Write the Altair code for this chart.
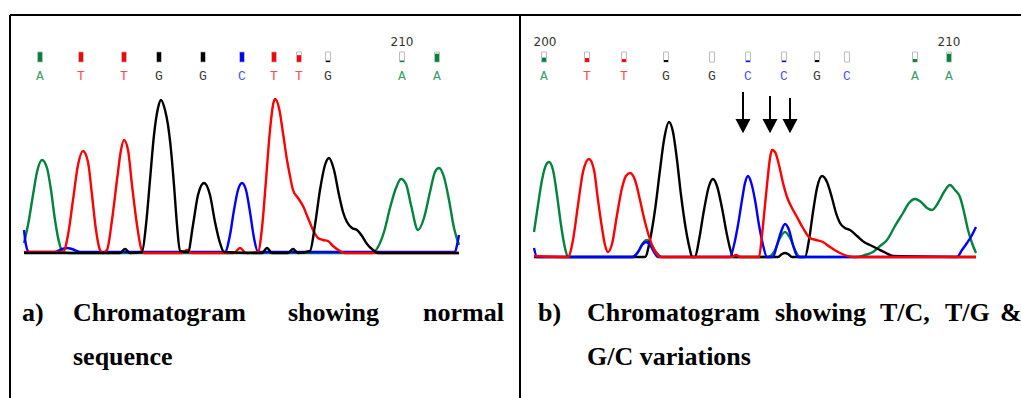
import altair as alt
import pandas as pd

# ---------------- Panel a (normal sequence) : scan position / signal intensity
A_GREEN_S = [0, 4, 9, 13, 18, 23, 27, 31, 35, 39, 46, 348, 354, 360, 366, 372, 377, 382, 387, 394, 400, 406, 411, 415, 420, 425, 430, 435]
A_GREEN_I = [100, 280, 580, 810, 930, 850, 630, 330, 110, 10, 0, 0, 60, 210, 450, 650, 740, 690, 480, 230, 350, 610, 810, 850, 760, 530, 250, 80]

A_RED_S = [0, 39, 44, 49, 54, 59, 64, 68, 72, 76, 79, 83, 88, 93, 97, 100, 104, 108, 113, 117, 120, 158, 163, 168, 210, 216, 222,
           234, 238, 242, 246, 249, 251, 255, 259, 263, 266, 269, 274, 279, 284, 289, 294, 299, 304, 309, 316, 321, 435]
A_RED_I = [10, 10, 180, 530, 880, 1020, 910, 580, 230, 30, 0, 30, 330, 730, 1030, 1130, 1030, 680, 280, 50, 0, 0, 30, 0, 0, 50, 0,
           10, 250, 730, 1230, 1480, 1540, 1450, 1200, 930, 770, 630, 550, 470, 350, 230, 150, 130, 120, 70, 20, 0, 0]

A_BLACK_S = [0, 96, 101, 106, 118, 122, 126, 130, 134, 137, 141, 144, 147, 150, 153, 156, 164, 169, 174, 180, 186, 191, 196, 200,
             238, 243, 248, 264, 269, 274, 286, 291, 296, 301, 305, 310, 315, 319, 323, 328, 333, 338, 343, 349, 354, 435]
A_BLACK_I = [0, 0, 40, 0, 10, 280, 730, 1180, 1450, 1530, 1430, 1280, 1030, 680, 280, 20, 10, 280, 580, 700, 580, 310, 100, 10,
             0, 50, 0, 0, 40, 0, 20, 280, 630, 880, 950, 830, 580, 410, 310, 250, 230, 170, 90, 30, 0, 0]

A_BLUE_S = [0, 2, 5, 31, 38, 43, 48, 56, 201, 206, 210, 214, 218, 222, 226, 230, 234, 431, 433, 435]
A_BLUE_I = [230, 80, 10, 10, 40, 50, 40, 10, 10, 180, 430, 630, 700, 630, 410, 150, 10, 10, 80, 180]

A_BASES = ["A", "T", "T", "G", "G", "C", "T", "T", "G", "A", "A"]
A_BASE_S = [16, 57, 100, 135, 179, 218, 250, 275, 304, 378, 413]
A_BASE_Q = [1.0, 1.0, 1.0, 1.0, 1.0, 1.0, 1.0, 0.7, 0.15, 0.15, 0.85]
A_POS_LABELS = ["210"]
A_POS_S = [378]

# ---------------- Panel b (T/C, T/G & G/C variations)
B_GREEN_S = [0, 4, 8, 12, 15, 19, 23, 27, 31, 34, 98, 104, 109, 113, 117, 122, 128, 234, 241, 246, 251, 256, 261, 266,
             323, 331, 339, 346, 353, 361, 369, 375, 381, 387, 393, 398, 404, 410, 416, 421, 426, 430, 434, 438, 442]
B_GREEN_I = [260, 530, 780, 930, 960, 880, 630, 330, 100, 10, 10, 60, 150, 180, 140, 60, 10, 10, 80, 200, 260, 200, 80, 10,
             10, 30, 60, 120, 180, 320, 450, 550, 590, 560, 500, 480, 550, 660, 730, 680, 610, 460, 280, 150, 50]

B_RED_S = [0, 34, 39, 44, 49, 55, 60, 64, 68, 71, 74, 78, 83, 88, 92, 96, 101, 106, 110, 114, 118, 122, 126, 198, 202, 206,
           225, 228, 231, 234, 236, 238, 241, 245, 249, 253, 258, 263, 269, 276, 282, 289, 296, 306, 319, 442]
B_RED_I = [20, 10, 180, 530, 860, 990, 880, 580, 300, 130, 60, 140, 430, 700, 820, 850, 780, 580, 400, 250, 130, 50, 10, 10, 30, 10,
           10, 230, 530, 830, 1000, 1080, 1060, 930, 750, 610, 500, 410, 300, 200, 180, 160, 110, 50, 10, 10]

B_BLACK_S = [0, 111, 116, 121, 126, 130, 135, 139, 143, 147, 152, 156, 158, 161, 165, 170, 175, 179, 183, 188, 193, 197, 199,
             244, 248, 251, 254, 258, 271, 275, 279, 283, 288, 293, 298, 302, 306, 311, 316, 323, 330, 336, 344, 352, 359, 442]
B_BLACK_I = [10, 10, 180, 480, 880, 1180, 1360, 1260, 980, 630, 280, 80, 10, 10, 180, 480, 720, 790, 720, 500, 230, 60, 10,
             10, 40, 50, 40, 10, 10, 180, 460, 700, 820, 760, 600, 450, 350, 300, 280, 220, 160, 130, 90, 50, 20, 10]

B_BLUE_S = [0, 3, 99, 104, 108, 112, 116, 120, 124, 196, 200, 204, 208, 211, 214, 217, 221, 225, 229, 233, 239, 243, 247, 251,
            255, 259, 264, 423, 428, 433, 438, 442]
B_BLUE_I = [100, 10, 10, 60, 130, 160, 130, 60, 10, 10, 130, 330, 580, 750, 820, 760, 580, 330, 130, 10, 10, 130, 260, 340,
            280, 130, 10, 10, 80, 150, 230, 310]

B_BASES = ["A", "T", "T", "G", "G", "C", "C", "G", "C", "A", "A"]
B_BASE_S = [10, 53, 90, 132, 178, 214, 250, 283, 313, 381, 415]
B_BASE_Q = [0.45, 0.4, 0.3, 0.2, 0.0, 0.15, 0.15, 0.2, 0.0, 0.3, 0.85]
B_POS_LABELS = ["200", "210"]
B_POS_S = [11, 415]

ARROW_S = [209, 236, 256]
ARROW_TOP_I = [1660, 1620, 1600]

# ---------------- styling
TRACE_COLORS = {"A": "#00843d", "C": "#0000ff", "G": "#000000", "T": "#ff0000"}
LETTER_COLORS = ["#3a9e66", "#4f4fff", "#3a3a3a", "#ff4a4a"]
BASE_DOMAIN = ["A", "C", "G", "T"]
BOX_COLORS = [TRACE_COLORS[b] for b in BASE_DOMAIN]
SERIF = "Liberation Serif"

xs_a = alt.Scale(domain=[0, 435], range=[24, 459], nice=False, zero=False)
ys_a = alt.Scale(domain=[0, 1530], range=[253, 100], nice=False, zero=False)
xs_b = alt.Scale(domain=[0, 442], range=[534, 976], nice=False, zero=False)
ys_b = alt.Scale(domain=[0, 1360], range=[258, 122], nice=False, zero=False)


def trace(s, i, base, xs, ys):
    df = pd.DataFrame({"s": s, "i": i})
    return alt.Chart(df).mark_line(
        color=TRACE_COLORS[base], strokeWidth=2.4, interpolate="monotone", strokeJoin="round"
    ).encode(x=alt.X("s:Q", scale=xs, axis=None), y=alt.Y("i:Q", scale=ys, axis=None))


def label_layers(bases, pos, frac, xs, nums, nums_s):
    df = pd.DataFrame({"s": pos, "base": bases, "q": frac})
    box = alt.Chart(df).mark_tick(
        orient="vertical", thickness=5, size=10, color="white", stroke="#bdbdbd", strokeWidth=1, opacity=1
    ).encode(x=alt.X("s:Q", scale=xs, axis=None), y=alt.value(57))
    fill = alt.Chart(df).mark_tick(orient="vertical", thickness=4, opacity=1).encode(
        x=alt.X("s:Q", scale=xs, axis=None),
        y=alt.Y("q:Q", scale=alt.Scale(domain=[0, 1], range=[62, 57]), axis=None),
        size=alt.Size("q:Q", scale=alt.Scale(domain=[0, 1], range=[0, 9.5]), legend=None),
        color=alt.Color("base:N", scale=alt.Scale(domain=BASE_DOMAIN, range=BOX_COLORS), legend=None),
    )
    letters = alt.Chart(df).mark_text(
        font="Liberation Mono", fontSize=13, baseline="middle", align="center"
    ).encode(
        x=alt.X("s:Q", scale=xs, axis=None),
        y=alt.value(76),
        text="base:N",
        color=alt.Color("base:N", scale=alt.Scale(domain=BASE_DOMAIN, range=LETTER_COLORS), legend=None),
    )
    ndf = pd.DataFrame({"s": nums_s, "t": nums})
    numbers = alt.Chart(ndf).mark_text(
        font="DejaVu Sans", fontSize=12, baseline="middle", align="center", color="#333333"
    ).encode(x=alt.X("s:Q", scale=xs, axis=None), y=alt.value(42), text="t:N")
    return [box, fill, letters, numbers]


def word(txt, x, y):
    return alt.Chart(pd.DataFrame({"t": [txt]})).mark_text(
        font=SERIF, fontSize=26, fontWeight="bold", align="left", baseline="alphabetic", color="black"
    ).encode(x=alt.value(x), y=alt.value(y), text="t:N")


def rule(x1, x2, y1, y2):
    return alt.Chart(pd.DataFrame({"k": [0]})).mark_rule(color="black", strokeWidth=2).encode(
        x=alt.value(x1), x2=alt.value(x2), y=alt.value(y1), y2=alt.value(y2)
    )


layers = [
    rule(10, 1021, 15, 15),
    rule(10, 10, 15, 398),
    rule(520, 520, 15, 398),
]

# panel a traces
layers += [
    trace(A_GREEN_S, A_GREEN_I, "A", xs_a, ys_a),
    trace(A_BLUE_S, A_BLUE_I, "C", xs_a, ys_a),
    trace(A_RED_S, A_RED_I, "T", xs_a, ys_a),
    trace(A_BLACK_S, A_BLACK_I, "G", xs_a, ys_a),
]
# panel b traces
layers += [
    trace(B_GREEN_S, B_GREEN_I, "A", xs_b, ys_b),
    trace(B_BLACK_S, B_BLACK_I, "G", xs_b, ys_b),
    trace(B_BLUE_S, B_BLUE_I, "C", xs_b, ys_b),
    trace(B_RED_S, B_RED_I, "T", xs_b, ys_b),
]

layers += label_layers(A_BASES, A_BASE_S, A_BASE_Q, xs_a, A_POS_LABELS, A_POS_S)
layers += label_layers(B_BASES, B_BASE_S, B_BASE_Q, xs_b, B_POS_LABELS, B_POS_S)

# arrows marking the variant positions
adf = pd.DataFrame({"s": ARROW_S, "top": ARROW_TOP_I})
layers.append(
    alt.Chart(adf).mark_rule(color="black", strokeWidth=2).encode(
        x=alt.X("s:Q", scale=xs_b, axis=None), y=alt.Y("top:Q", scale=ys_b, axis=None), y2=alt.value(121)
    )
)
layers.append(
    alt.Chart(adf).mark_point(
        shape="M-1,-0.95L1,-0.95L0,0.95Z", size=225, filled=True, color="black", opacity=1
    ).encode(x=alt.X("s:Q", scale=xs_b, axis=None), y=alt.value(126))
)

# captions
layers += [
    word("a)", 22, 321), word("Chromatogram", 73, 321), word("showing", 288, 321), word("normal", 423, 321),
    word("sequence", 73, 365),
    word("b)", 538, 321), word("Chromatogram", 587, 321), word("showing", 775, 321), word("T/C,", 880, 321),
    word("T/G", 945, 321), word("&", 1000, 321),
    word("G/C variations", 587, 365),
]

chart = alt.layer(*layers).resolve_scale(
    x="independent", y="independent", color="independent", size="independent"
).properties(
    width=1021, height=398, padding=0, autosize=alt.AutoSizeParams(type="none"), background="white"
).configure_view(stroke=None)

chart.save("out.html", embed_options={"renderer": "svg", "actions": False})
